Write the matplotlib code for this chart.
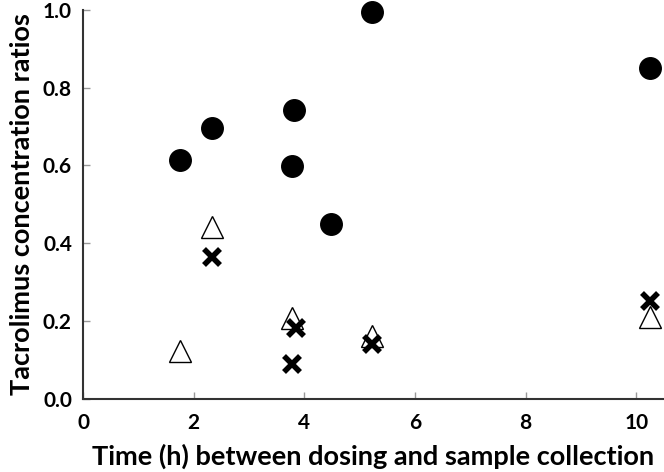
import numpy as np
import matplotlib
matplotlib.use('Agg')
import matplotlib.pyplot as plt

plt.rcParams['font.family'] = ['Lato', 'DejaVu Sans']
plt.rcParams['font.weight'] = 'bold'

# time (h) between dosing and sample collection
circle_x = [1.75, 2.33, 3.82, 3.78, 4.48, 5.23, 10.24]
circle_y = [0.614, 0.697, 0.743, 0.599, 0.45, 0.995, 0.851]

tri_x = [1.75, 2.33, 3.78, 5.23, 10.24]
tri_y = [0.123, 0.442, 0.208, 0.162, 0.21]

cross_x = [2.33, 3.85, 3.78, 5.23, 10.24]
cross_y = [0.365, 0.183, 0.09, 0.141, 0.252]

fig = plt.figure(figsize=(6.64, 4.72), dpi=100)
ax = fig.add_axes([0.125, 0.155, 0.875, 0.824])

ax.plot(tri_x, tri_y, linestyle='none', marker='^', markersize=16,
        markerfacecolor='white', markeredgecolor='black', markeredgewidth=1.0, clip_on=False)
ax.plot(cross_x, cross_y, linestyle='none', marker='x', markersize=12,
        color='black', markeredgewidth=4, clip_on=False)
ax.plot(circle_x, circle_y, linestyle='none', marker='o', markersize=15.5,
        color='black', clip_on=False)

ax.set_xlim(0, 10.5)
ax.set_ylim(0, 1.0)
ax.set_xticks([0, 2, 4, 6, 8, 10])
ax.set_yticks([0.0, 0.2, 0.4, 0.6, 0.8, 1.0])
ax.set_yticklabels(['0.0', '0.2', '0.4', '0.6', '0.8', '1.0'])

for s in ['top', 'right']:
    ax.spines[s].set_visible(False)
for s in ['left', 'bottom']:
    ax.spines[s].set_linewidth(1.5)
    ax.spines[s].set_color('#333333')

ax.tick_params(direction='in', length=5, width=1, color='#999999',
               labelsize=15, pad=8)
ax.tick_params(axis='x', pad=10)

ax.set_xlabel('Time (h) between dosing and sample collection', fontsize=19.5,
              fontweight='bold', labelpad=8)
ax.set_ylabel('Tacrolimus concentration ratios', fontsize=19.5,
              fontweight='bold', labelpad=6)

fig.savefig('out.png', dpi=100)
